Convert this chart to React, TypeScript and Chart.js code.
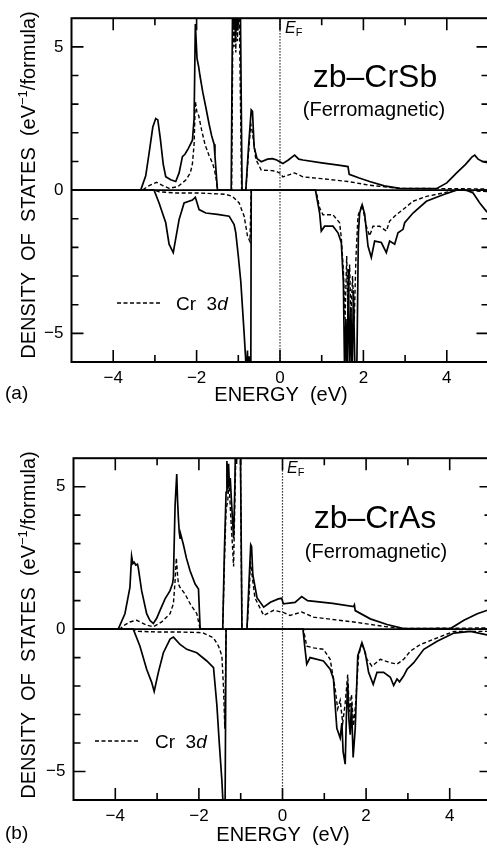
import React, { useEffect, useRef } from "react";
import { Chart, registerables } from "chart.js";
Chart.register(...registerables);

const FONT = '"Liberation Sans", Arial, Helvetica, sans-serif';

// ---------- Panel (a): zb-CrSb ----------
const sbUpTotE = [-5, -3.34, -3.22, -3.14, -3.05, -2.98, -2.93, -2.87, -2.8, -2.74, -2.62, -2.5, -2.42, -2.34, -2.28, -2.2, -2.1, -2.06, -2.03, -1.99, -1.95, -1.92, -1.85, -1.78, -1.7, -1.64, -1.61, -1.58, -1.56, -1.54, -1.5, -1.17, -1.13, -1.11, -1.09, -1.07, -1.05, -1.03, -1.01, -0.99, -0.96, -0.91, -0.82, -0.75, -0.69, -0.66, -0.62, -0.55, -0.45, -0.3, -0.18, -0.08, 0.07, 0.2, 0.35, 0.45, 0.55, 1.0, 1.4, 1.63, 1.66, 1.9, 2.15, 2.5, 2.87, 3.75, 4.0, 4.23, 4.45, 4.6, 4.67, 4.75, 4.87, 5.0];
const sbUpTotD = [0, 0, 0.5, 1.28, 2.2, 2.5, 2.45, 1.8, 0.9, 0.47, 0.36, 0.3, 0.6, 1.17, 1.25, 1.45, 1.74, 2.5, 5.8, 4.6, 4.3, 4.0, 3.4, 2.9, 2.3, 1.9, 1.75, 1.6, 1.2, 0.8, 0, 0, 8, 5.6, 8, 5.2, 8, 5.6, 8, 6, 8, 0, 0, 1.6, 2.8, 2.75, 1.5, 1.1, 0.99, 1.08, 1.1, 1.05, 0.93, 1.05, 1.22, 1.08, 1.05, 0.95, 0.87, 0.82, 0.55, 0.42, 0.3, 0.15, 0.06, 0.05, 0.25, 0.59, 0.9, 1.15, 1.22, 1.08, 0.99, 0.95];
const sbUpCrE = [-5, -3.3, -3.15, -2.96, -2.8, -2.66, -2.45, -2.26, -2.15, -2.1, -2.06, -2.03, -1.99, -1.95, -1.88, -1.8, -1.7, -1.62, -1.57, -1.52, -1.5, -1.16, -1.12, -1.1, -1.08, -1.06, -1.04, -1.02, -1.0, -0.97, -0.92, -0.82, -0.76, -0.7, -0.66, -0.58, -0.45, -0.2, -0.09, 0.0, 0.07, 0.35, 0.55, 1.0, 1.63, 2.15, 2.87, 5.0];
const sbUpCrD = [0, 0, 0.15, 0.27, 0.15, 0.06, 0.12, 0.35, 0.6, 0.92, 1.6, 3.1, 2.7, 2.6, 2.1, 1.6, 1.2, 0.95, 0.7, 0.3, 0, 0, 7.5, 5.0, 7.5, 4.8, 7.5, 5.2, 7.5, 5.5, 0, 0, 1.2, 2.3, 2.0, 1.08, 0.7, 0.68, 0.66, 0.59, 0.46, 0.6, 0.46, 0.4, 0.3, 0.17, 0.06, 0.04];
const sbDnTotE = [-5, -3.02, -2.9, -2.74, -2.66, -2.56, -2.42, -2.3, -2.1, -2.03, -1.94, -1.78, -1.5, -1.22, -1.1, -1.06, -1.0, -0.94, -0.86, -0.8, -0.78, -0.76, -0.74, -0.72, -0.7, -0.69, 0.85, 0.95, 0.99, 1.07, 1.27, 1.39, 1.47, 1.52, 1.55, 1.58, 1.61, 1.64, 1.67, 1.7, 1.73, 1.76, 1.8, 1.84, 1.88, 1.91, 1.97, 2.03, 2.11, 2.19, 2.27, 2.43, 2.55, 2.63, 2.75, 2.83, 2.95, 2.99, 3.19, 3.51, 3.91, 4.23, 4.47, 4.63, 4.79, 4.95, 5.0];
const sbDnTotD = [0, 0, -0.45, -1.14, -1.89, -2.18, -1.03, -0.45, -0.35, -0.25, -0.68, -0.8, -0.85, -0.91, -1.2, -1.49, -2.3, -3.2, -5.0, -6.5, -5.6, -7, -5.8, -7, -6.5, 0, 0, -0.8, -1.43, -1.26, -1.26, -1.49, -1.83, -3.22, -6.5, -4.5, -6.5, -2.75, -6.5, -4.1, -6.5, -3.5, -6.5, -6.5, -1.5, -0.8, -0.51, -0.83, -1.95, -2.35, -1.78, -1.83, -2.18, -1.78, -1.89, -1.49, -1.37, -1.14, -0.8, -0.39, -0.16, 0, 0, -0.1, -0.45, -0.74, -0.8];
const sbDnCrE = [-5, -3.0, -2.9, -2.5, -2.0, -1.5, -1.3, -1.14, -0.98, -0.86, -0.78, -0.72, -0.69, 0.86, 0.95, 1.03, 1.27, 1.43, 1.47, 1.52, 1.56, 1.6, 1.63, 1.67, 1.7, 1.74, 1.78, 1.82, 1.87, 1.97, 2.07, 2.15, 2.23, 2.39, 2.55, 2.63, 2.79, 2.95, 3.19, 3.51, 3.91, 4.23, 5.0];
const sbDnCrD = [0, 0, -0.06, -0.1, -0.1, -0.13, -0.15, -0.22, -0.45, -0.91, -1.6, -1.8, 0, 0, -0.62, -0.86, -0.86, -1.14, -1.66, -2.8, -4.5, -2.3, -4.2, -2.6, -4.4, -3.0, -4.6, -2.4, -0.9, -0.51, -1.26, -1.6, -1.26, -1.26, -1.43, -1.08, -0.86, -0.68, -0.39, -0.22, -0.1, 0, -0.05];

// ---------- Panel (b): zb-CrAs ----------
const asUpTotE = [-5, -3.93, -3.77, -3.65, -3.61, -3.58, -3.55, -3.51, -3.47, -3.45, -3.37, -3.25, -3.17, -3.09, -3.01, -2.93, -2.81, -2.69, -2.63, -2.61, -2.57, -2.53, -2.51, -2.49, -2.47, -2.45, -2.43, -2.37, -2.3, -2.21, -2.09, -2.03, -2.01, -1.97, -1.43, -1.39, -1.35, -1.33, -1.31, -1.29, -1.27, -1.25, -1.22, -1.17, -1.14, -1.12, -1.1, -1.08, -1.06, -1.04, -1.01, -0.97, -0.85, -0.8, -0.76, -0.74, -0.71, -0.61, -0.45, -0.29, -0.1, -0.02, 0.02, 0.3, 0.46, 0.6, 1.2, 1.7, 1.72, 1.74, 2.1, 2.5, 2.9, 4.02, 4.34, 4.66, 4.9, 5.0];
const asUpTotD = [0, 0, 0.54, 1.46, 2.56, 2.3, 2.35, 2.25, 2.28, 2.15, 1.35, 0.54, 0.3, 0.2, 0.38, 0.66, 1.06, 1.35, 1.6, 1.81, 4.34, 5.44, 4.5, 3.88, 3.4, 3.19, 3.3, 2.96, 2.5, 2.04, 1.58, 1.45, 1.41, 0, 0, 2.73, 4.8, 5.9, 4.9, 5.8, 5.0, 5.3, 4.46, 3.19, 5.0, 7, 5.8, 7.5, 6.2, 7.5, 7, 0, 0, 1.7, 2.96, 2.9, 1.91, 1.1, 0.77, 0.94, 1.06, 1.08, 0.89, 0.94, 1.14, 1.0, 0.9, 0.79, 0.85, 0.65, 0.36, 0.16, 0.02, 0.02, 0.31, 0.54, 0.66, 0.67];
const asUpCrE = [-5, -3.89, -3.77, -3.65, -3.49, -3.25, -3.09, -2.89, -2.69, -2.61, -2.57, -2.54, -2.51, -2.49, -2.45, -2.33, -2.21, -2.05, -1.97, -1.43, -1.39, -1.35, -1.31, -1.28, -1.24, -1.2, -1.17, -1.14, -1.11, -1.06, -1.01, -0.97, -0.85, -0.79, -0.77, -0.72, -0.66, -0.45, -0.21, 0.03, 0.18, 0.46, 0.74, 1.7, 2.5, 2.9, 5.0];
const asUpCrD = [0, 0, 0.15, 0.25, 0.31, 0.14, 0.08, 0.25, 0.54, 0.89, 1.69, 2.5, 1.9, 1.58, 1.46, 1.23, 0.89, 0.54, 0, 0, 2.3, 4.2, 4.5, 5.2, 4.0, 3.0, 2.2, 4.5, 6.5, 7, 6.5, 0, 0, 1.4, 2.38, 1.8, 1.1, 0.48, 0.66, 0.58, 0.48, 0.6, 0.42, 0.25, 0.08, 0.02, 0.04];
const asDnTotE = [-5, -3.57, -3.41, -3.25, -3.13, -3.07, -2.97, -2.85, -2.69, -2.61, -2.45, -2.29, -2.05, -1.81, -1.65, -1.57, -1.51, -1.45, -1.41, -1.38, -1.35, 0.49, 0.54, 0.58, 0.66, 0.98, 1.14, 1.22, 1.26, 1.3, 1.38, 1.42, 1.45, 1.5, 1.53, 1.56, 1.59, 1.62, 1.65, 1.69, 1.74, 1.8, 1.9, 1.98, 2.06, 2.17, 2.26, 2.42, 2.58, 2.66, 2.74, 2.8, 2.9, 2.98, 3.14, 3.38, 3.7, 4.1, 4.5, 4.89, 5.0];
const asDnTotD = [0, 0, -0.6, -1.41, -1.87, -2.19, -1.52, -0.83, -0.35, -0.28, -0.54, -0.71, -0.83, -1.12, -1.35, -2.67, -4.05, -5.32, -6.5, -8, 0, 0, -0.71, -1.23, -1.0, -1.12, -1.41, -1.75, -2.67, -3.48, -3.82, -3.3, -4.3, -4.74, -3.0, -1.87, -3.2, -3.71, -2.6, -4.51, -3.48, -0.94, -0.48, -0.83, -1.52, -1.94, -1.52, -1.52, -1.69, -1.98, -1.75, -1.85, -1.64, -1.41, -1.18, -0.71, -0.43, -0.14, -0.08, -0.2, -0.22];
const asDnCrE = [-5, -3.57, -3.45, -3.0, -2.5, -2.0, -1.89, -1.65, -1.53, -1.45, -1.41, -1.38, -1.35, 0.5, 0.58, 0.74, 0.98, 1.14, 1.26, 1.32, 1.38, 1.44, 1.5, 1.56, 1.6, 1.65, 1.7, 1.75, 1.82, 1.9, 2.02, 2.14, 2.34, 2.58, 2.74, 2.9, 3.06, 3.3, 3.7, 4.1, 5.0];
const asDnCrD = [0, 0, -0.08, -0.1, -0.1, -0.12, -0.14, -0.31, -0.6, -0.94, -2.1, -3.5, 0, 0, -0.6, -0.66, -0.71, -1.06, -2.1, -2.8, -2.5, -3.3, -2.6, -1.6, -2.9, -2.3, -3.4, -2.6, -0.94, -0.48, -1.06, -1.3, -1.06, -1.18, -1.23, -1.06, -0.77, -0.54, -0.31, -0.08, -0.08];

// ---------- Axes ----------
const X_MIN = -5, X_MAX = 5, Y_MIN = -6, Y_MAX = 6;
const xTickLabelValues = [-4, -2, 0, 2, 4];
const yTickLabelValues = [-5, 0, 5];
const fmt = (v: number) => (v < 0 ? "\u2212" + Math.abs(v) : String(v));

const CANVAS_W = 500;

type PanelDef = {
  top: number; height: number; left: number; chartTop: number; chartRight: number; chartBottom: number;
  compound: string; tag: string;
  upTot: [number[], number[]]; upCr: [number[], number[]]; dnTot: [number[], number[]]; dnCr: [number[], number[]];
  txt: { yTitleX: number; yTitleY: number; xTitleX: number; xTitleY: number; tagX: number; tagY: number; efX: number; efY: number;
    compX: number; compY: number; ferroX: number; ferroY: number; legX1: number; legX2: number; legY: number; legTextX: number };
};

const panels: PanelDef[] = [
  {
    top: 0, height: 420, left: 71.5, chartTop: 13, chartRight: 488.5, chartBottom: 362,
    compound: "zb\u2013CrSb", tag: "(a)",
    upTot: [sbUpTotE, sbUpTotD], upCr: [sbUpCrE, sbUpCrD], dnTot: [sbDnTotE, sbDnTotD], dnCr: [sbDnCrE, sbDnCrD],
    txt: { yTitleX: 28, yTitleY: 185, xTitleX: 281, xTitleY: 394, tagX: 5, tagY: 392, efX: 285, efY: 33,
      compX: 375, compY: 76, ferroX: 374, ferroY: 109, legX1: 117, legX2: 160, legY: 303, legTextX: 176 },
  },
  {
    top: 440, height: 408, left: 73.5, chartTop: 11, chartRight: 491.5, chartBottom: 360,
    compound: "zb\u2013CrAs", tag: "(b)",
    upTot: [asUpTotE, asUpTotD], upCr: [asUpCrE, asUpCrD], dnTot: [asDnTotE, asDnTotD], dnCr: [asDnCrE, asDnCrD],
    txt: { yTitleX: 28, yTitleY: 625, xTitleX: 283, xTitleY: 834, tagX: 5, tagY: 832, efX: 287, efY: 473,
      compX: 375, compY: 517, ferroX: 376, ferroY: 551, legX1: 95, legX2: 140, legY: 741, legTextX: 155 },
  },
];

type Run = { t: string; font: string; dy?: number };
function drawRuns(ctx: CanvasRenderingContext2D, runs: Run[], x: number, y: number, align: "left" | "center") {
  let total = 0;
  for (const r of runs) { ctx.font = r.font; total += ctx.measureText(r.t).width; }
  let cx = align === "center" ? x - total / 2 : x;
  ctx.textAlign = "left";
  ctx.textBaseline = "alphabetic";
  for (const r of runs) {
    ctx.font = r.font;
    ctx.fillText(r.t, cx, y + (r.dy || 0));
    cx += ctx.measureText(r.t).width;
  }
}

function makePlugin(p: PanelDef) {
  return {
    id: "dosDecor",
    beforeDatasetsDraw(chart: any) {
      const { ctx, chartArea: a, scales } = chart;
      const x = scales.x, y = scales.y;
      ctx.save();
      ctx.strokeStyle = "#000";
      ctx.lineWidth = 1.2;
      ctx.setLineDash([1.3, 1.7]);
      const x0 = x.getPixelForValue(0);
      ctx.beginPath(); ctx.moveTo(x0, a.top); ctx.lineTo(x0, a.bottom); ctx.stroke();
      ctx.setLineDash([]);
      ctx.lineWidth = 1.7;
      const y0 = y.getPixelForValue(0);
      ctx.beginPath(); ctx.moveTo(a.left, y0); ctx.lineTo(a.right, y0); ctx.stroke();
      ctx.restore();
    },
    afterDraw(chart: any) {
      const { ctx, chartArea: a, scales } = chart;
      const x = scales.x, y = scales.y;
      const T = p.txt;
      const off = p.top;
      ctx.save();
      ctx.strokeStyle = "#000";
      ctx.fillStyle = "#000";
      // frame
      ctx.lineWidth = 2;
      ctx.strokeRect(a.left, a.top, a.right - a.left, a.bottom - a.top);
      // inward ticks
      ctx.lineWidth = 1.6;
      ctx.beginPath();
      for (let v = X_MIN + 1; v <= X_MAX - 1; v++) {
        const px = x.getPixelForValue(v);
        const len = v % 2 === 0 ? 12 : 7;
        ctx.moveTo(px, a.bottom); ctx.lineTo(px, a.bottom - len);
        ctx.moveTo(px, a.top); ctx.lineTo(px, a.top + len);
      }
      for (let v = Y_MIN + 1; v <= Y_MAX - 1; v++) {
        const py = y.getPixelForValue(v);
        const len = v % 5 === 0 ? 12 : 7;
        ctx.moveTo(a.left, py); ctx.lineTo(a.left + len, py);
        ctx.moveTo(a.right, py); ctx.lineTo(a.right - len, py);
      }
      ctx.stroke();

      // y-axis title (rotated)
      ctx.save();
      ctx.translate(T.yTitleX, T.yTitleY - off);
      ctx.rotate(-Math.PI / 2);
      drawRuns(ctx, [
        { t: "DENSITY  OF  STATES  (eV", font: `20px ${FONT}` },
        { t: "\u22121", font: `13px ${FONT}`, dy: -8 },
        { t: "/formula)", font: `20px ${FONT}` },
      ], 0, 7, "center");
      ctx.restore();

      // x-axis title and panel tag
      drawRuns(ctx, [{ t: "ENERGY  (eV)", font: `20px ${FONT}` }], T.xTitleX, T.xTitleY - off + 7, "center");
      drawRuns(ctx, [{ t: p.tag, font: `19px ${FONT}` }], T.tagX, T.tagY - off + 7, "left");

      // E_F
      drawRuns(ctx, [
        { t: "E", font: `italic 16px ${FONT}` },
        { t: "F", font: `11px ${FONT}`, dy: 3 },
      ], T.efX, T.efY - off, "left");

      // compound title
      drawRuns(ctx, [{ t: p.compound, font: `32px ${FONT}` }], T.compX, T.compY - off + 11, "center");
      drawRuns(ctx, [{ t: "(Ferromagnetic)", font: `20px ${FONT}` }], T.ferroX, T.ferroY - off + 7, "center");

      // legend
      ctx.lineWidth = 1.4;
      ctx.setLineDash([4, 2.5]);
      ctx.beginPath();
      ctx.moveTo(T.legX1, T.legY - off); ctx.lineTo(T.legX2, T.legY - off);
      ctx.stroke();
      ctx.setLineDash([]);
      drawRuns(ctx, [
        { t: "Cr  3", font: `19px ${FONT}` },
        { t: "d", font: `italic 19px ${FONT}` },
      ], T.legTextX, T.legY - off + 7, "left");
      ctx.restore();
    },
  };
}

function DosPanel({ p }: { p: PanelDef }) {
  const ref = useRef<HTMLCanvasElement>(null);
  useEffect(() => {
    const canvas = ref.current;
    if (!canvas) return;
    const pts = (s: [number[], number[]]) => s[0].map((e, i) => ({ x: e, y: s[1][i] }));
    const ds = (s: [number[], number[]], dashed: boolean) => ({
      data: pts(s),
      borderColor: "#000",
      borderWidth: dashed ? 1.4 : 1.7,
      borderDash: dashed ? [4, 2.5] : [],
      pointRadius: 0,
      fill: false,
      tension: 0,
      clip: 0,
      order: dashed ? 2 : 1,
    });
    const chart = new Chart(canvas, {
      type: "line",
      data: {
        datasets: [ds(p.upCr, true), ds(p.dnCr, true), ds(p.upTot, false), ds(p.dnTot, false)],
      },
      options: {
        responsive: false,
        animation: false,
        events: [],
        layout: { padding: { top: p.chartTop, right: CANVAS_W - p.chartRight, left: 0, bottom: 0 } },
        plugins: { legend: { display: false }, tooltip: { enabled: false }, title: { display: false } },
        scales: {
          x: {
            type: "linear", min: X_MIN, max: X_MAX,
            grid: { display: false, drawTicks: false }, border: { display: false },
            ticks: {
              stepSize: 1, autoSkip: false, maxRotation: 0, padding: 6, color: "#000",
              font: { family: FONT, size: 17 },
              callback: (v: any) => (xTickLabelValues.includes(Number(v)) ? fmt(Number(v)) : ""),
            },
            afterFit: (s: any) => { s.height = p.height - p.chartBottom; },
          },
          y: {
            type: "linear", min: Y_MIN, max: Y_MAX,
            grid: { display: false, drawTicks: false }, border: { display: false },
            ticks: {
              stepSize: 1, autoSkip: false, padding: 8, color: "#000",
              font: { family: FONT, size: 17 },
              callback: (v: any) => (yTickLabelValues.includes(Number(v)) ? fmt(Number(v)) : ""),
            },
            afterFit: (s: any) => { s.width = p.left; },
          },
        },
      } as any,
      plugins: [makePlugin(p)],
    });
    return () => chart.destroy();
  }, [p]);
  return (
    <canvas
      ref={ref}
      width={CANVAS_W}
      height={p.height}
      style={{ position: "absolute", left: 0, top: p.top, width: CANVAS_W, height: p.height }}
    />
  );
}

export default function App() {
  return (
    <div style={{ position: "absolute", left: 0, top: 0, width: 487, height: 848, overflow: "hidden", background: "#fff" }}>
      {panels.map((p) => (
        <DosPanel key={p.tag} p={p} />
      ))}
    </div>
  );
}
